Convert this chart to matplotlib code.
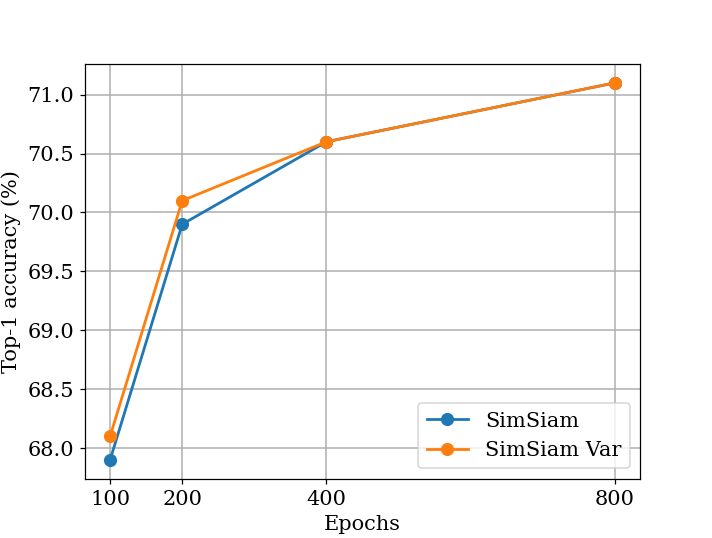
import matplotlib.pyplot as plt

plt.rcParams['font.family'] = 'DejaVu Serif'
plt.rcParams['font.size'] = 13.5

epochs = [100, 200, 400, 800]
simsiam = [67.9, 69.9, 70.6, 71.1]
simsiam_var = [68.1, 70.1, 70.6, 71.1]

fig = plt.figure(figsize=(6.4, 4.83), dpi=111.4)
plt.subplots_adjust(left=0.119, right=0.898, top=0.881, bottom=0.110)
plt.plot(epochs, simsiam, marker='o', lw=1.8, ms=7.5, label='SimSiam')
plt.plot(epochs, simsiam_var, marker='o', lw=1.8, ms=7.5, label='SimSiam Var')
plt.xticks(epochs)
plt.xlabel('Epochs')
plt.ylabel('Top-1 accuracy (%)')
plt.grid(True, lw=1.0)
plt.legend(loc='lower right')
plt.savefig('out.png')
